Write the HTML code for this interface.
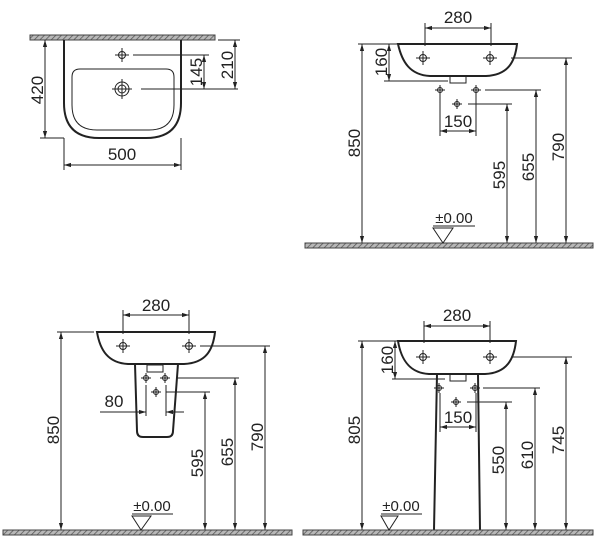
<!DOCTYPE html>
<html><head><meta charset="utf-8"><style>
html,body{margin:0;padding:0;background:#fff;}
svg{display:block;}
text{font-family:"Liberation Sans","DejaVu Sans",sans-serif;font-size:17px;fill:#222;}
</style></head><body>
<svg width="600" height="550" viewBox="0 0 600 550" xmlns="http://www.w3.org/2000/svg">
<defs>
<pattern id="h" width="4" height="4" patternUnits="userSpaceOnUse" patternTransform="rotate(45)">
<rect width="4" height="4" fill="#b8b8b8"/><line x1="0" y1="0" x2="0" y2="4" stroke="#555" stroke-width="1.5"/>
</pattern>
<marker id="a" viewBox="0 0 10 10" refX="10" refY="5" markerWidth="7" markerHeight="7" markerUnits="userSpaceOnUse" orient="auto-start-reverse">
<path d="M0,2 L10,5 L0,8 Z" fill="#222"/></marker>
<g id="tap"><circle r="3.5" fill="none" stroke="#222" stroke-width="1"/><line x1="-7" y1="0" x2="7" y2="0" stroke="#222" stroke-width="1"/><line x1="0" y1="-7" x2="0" y2="7" stroke="#222" stroke-width="1"/></g>
<g id="sm"><circle r="2.5" fill="none" stroke="#222" stroke-width="1"/><line x1="-5" y1="0" x2="5" y2="0" stroke="#222" stroke-width="1"/><line x1="0" y1="-5" x2="0" y2="5" stroke="#222" stroke-width="1"/></g>
</defs>

<g stroke="#222" stroke-width="1" fill="none">
<!-- Q1 -->
<rect x="30" y="35" width="185" height="5" fill="url(#h)" stroke="#444"/>
<path d="M64,40 V103 Q64,138 99,138 H146 Q181,138 181,103 V40" stroke-width="2"/>
<path d="M80,69 H166 Q174,69 174,77 V105 Q174,130 149,130 H97 Q72,130 72,105 V77 Q72,69 80,69 Z"/>
<line x1="133" y1="55" x2="209" y2="55"/>
<line x1="141" y1="89" x2="238" y2="89"/>
<line x1="218" y1="40" x2="240" y2="40"/>
<line x1="40" y1="138" x2="64" y2="138"/>
<line x1="45" y1="40" x2="45" y2="138" marker-start="url(#a)" marker-end="url(#a)"/>
<line x1="204" y1="55" x2="204" y2="89" marker-start="url(#a)" marker-end="url(#a)"/>
<line x1="235" y1="40" x2="235" y2="89" marker-start="url(#a)" marker-end="url(#a)"/>
<line x1="64" y1="138" x2="64" y2="170"/><line x1="181" y1="138" x2="181" y2="170"/>
<line x1="64" y1="165" x2="181" y2="165" marker-start="url(#a)" marker-end="url(#a)"/>
<circle cx="122" cy="89" r="7"/><circle cx="122" cy="89" r="4"/>
<line x1="112" y1="89" x2="132" y2="89"/><line x1="122" y1="79" x2="122" y2="99"/>

<!-- Q2 -->
<line x1="425" y1="23" x2="425" y2="46"/><line x1="491" y1="23" x2="491" y2="46"/>
<line x1="425" y1="28" x2="491" y2="28" marker-start="url(#a)" marker-end="url(#a)"/>
<path d="M398,44 H517 C515,62 508,75 486,76 H430 C410,75 402,62 398,44 Z" stroke-width="2"/>
<rect x="450" y="76" width="16" height="7"/>
<line x1="358" y1="44" x2="398" y2="44"/>
<line x1="384" y1="81" x2="448" y2="81"/>
<line x1="389" y1="44" x2="389" y2="81" marker-start="url(#a)" marker-end="url(#a)"/>
<line x1="511" y1="58" x2="572" y2="58"/>
<line x1="485" y1="90" x2="541" y2="90"/>
<line x1="468" y1="104" x2="512" y2="104"/>
<line x1="440" y1="95" x2="440" y2="136"/><line x1="476" y1="95" x2="476" y2="136"/>
<line x1="440" y1="131" x2="476" y2="131" marker-start="url(#a)" marker-end="url(#a)"/>
<line x1="362" y1="44" x2="362" y2="243" marker-start="url(#a)" marker-end="url(#a)"/>
<line x1="507" y1="104" x2="507" y2="243" marker-start="url(#a)" marker-end="url(#a)"/>
<line x1="536" y1="90" x2="536" y2="243" marker-start="url(#a)" marker-end="url(#a)"/>
<line x1="566" y1="58" x2="566" y2="243" marker-start="url(#a)" marker-end="url(#a)"/>
<rect x="305" y="243" width="288" height="5" fill="url(#h)" stroke="#444"/>
<line x1="433" y1="226" x2="475" y2="226"/>
<path d="M433,228 H453 L443,243 Z"/>

<!-- Q3 -->
<line x1="123" y1="310" x2="123" y2="334"/><line x1="189" y1="310" x2="189" y2="334"/>
<line x1="123" y1="315" x2="189" y2="315" marker-start="url(#a)" marker-end="url(#a)"/>
<path d="M97,332 H215 C213,350 206,363 184,364 H128 C108,363 100,350 97,332 Z" stroke-width="2"/>
<path d="M135,364 L137,431 Q137,437 143,437 H167 Q173,437 173,431 L178,364" stroke-width="2"/>
<rect x="147" y="365" width="16" height="7"/>
<line x1="57" y1="332" x2="94" y2="332"/>
<line x1="61" y1="332" x2="61" y2="530" marker-start="url(#a)" marker-end="url(#a)"/>
<line x1="200" y1="346" x2="270" y2="346"/>
<line x1="177" y1="378" x2="239" y2="378"/>
<line x1="166" y1="392" x2="210" y2="392"/>
<line x1="146" y1="385" x2="146" y2="416"/><line x1="166" y1="385" x2="166" y2="416"/>
<line x1="100" y1="412" x2="146" y2="412" marker-end="url(#a)"/>
<line x1="184" y1="412" x2="166" y2="412" marker-end="url(#a)"/>
<line x1="205" y1="392" x2="205" y2="530" marker-start="url(#a)" marker-end="url(#a)"/>
<line x1="235" y1="378" x2="235" y2="530" marker-start="url(#a)" marker-end="url(#a)"/>
<line x1="265" y1="346" x2="265" y2="530" marker-start="url(#a)" marker-end="url(#a)"/>
<rect x="3" y="530" width="289" height="5" fill="url(#h)" stroke="#444"/>
<line x1="132" y1="514" x2="173" y2="514"/>
<path d="M132,516 H151 L141,530 Z"/>

<!-- Q4 -->
<line x1="424" y1="321" x2="424" y2="343"/><line x1="490" y1="321" x2="490" y2="343"/>
<line x1="424" y1="326" x2="490" y2="326" marker-start="url(#a)" marker-end="url(#a)"/>
<path d="M398,341 H516 C514,359 507,373 485,374 H429 C409,373 401,359 398,341 Z" stroke-width="2"/>
<path d="M437,374 L434,530 M478,374 L480,530" stroke-width="2"/>
<rect x="450" y="374" width="16" height="7"/>
<line x1="358" y1="341" x2="398" y2="341"/>
<line x1="392" y1="379" x2="445" y2="379"/>
<line x1="395" y1="341" x2="395" y2="379" marker-start="url(#a)" marker-end="url(#a)"/>
<line x1="362" y1="341" x2="362" y2="530" marker-start="url(#a)" marker-end="url(#a)"/>
<line x1="511" y1="357" x2="572" y2="357"/>
<line x1="483" y1="388" x2="540" y2="388"/>
<line x1="467" y1="402" x2="512" y2="402"/>
<line x1="440" y1="393" x2="440" y2="432"/><line x1="476" y1="393" x2="476" y2="432"/>
<line x1="440" y1="427" x2="476" y2="427" marker-start="url(#a)" marker-end="url(#a)"/>
<line x1="506" y1="402" x2="506" y2="530" marker-start="url(#a)" marker-end="url(#a)"/>
<line x1="535" y1="388" x2="535" y2="530" marker-start="url(#a)" marker-end="url(#a)"/>
<line x1="566" y1="357" x2="566" y2="530" marker-start="url(#a)" marker-end="url(#a)"/>
<rect x="303" y="530" width="290" height="5" fill="url(#h)" stroke="#444"/>
<line x1="381" y1="514" x2="422" y2="514"/>
<path d="M381,516 H398 L389,530 Z"/>
</g>

<use href="#tap" x="122" y="55"/>
<use href="#tap" x="423" y="58"/><use href="#tap" x="490" y="58"/>
<use href="#sm" x="440" y="90"/><use href="#sm" x="476" y="90"/><use href="#sm" x="457" y="104"/>
<use href="#tap" x="123" y="346"/><use href="#tap" x="189" y="346"/>
<use href="#sm" x="146" y="378"/><use href="#sm" x="165" y="378"/><use href="#sm" x="156" y="392"/>
<use href="#tap" x="423" y="357"/><use href="#tap" x="490" y="357"/>
<use href="#sm" x="439" y="388"/><use href="#sm" x="475" y="388"/><use href="#sm" x="456" y="402"/>

<!-- texts -->
<text x="122" y="160" text-anchor="middle">500</text>
<text transform="translate(43,90) rotate(-90)" text-anchor="middle">420</text>
<text transform="translate(202,72) rotate(-90)" text-anchor="middle">145</text>
<text transform="translate(233,65) rotate(-90)" text-anchor="middle">210</text>

<text x="458" y="23" text-anchor="middle">280</text>
<text transform="translate(387,62) rotate(-90)" text-anchor="middle">160</text>
<text x="458" y="127" text-anchor="middle">150</text>
<text transform="translate(360,143) rotate(-90)" text-anchor="middle">850</text>
<text transform="translate(505,175) rotate(-90)" text-anchor="middle">595</text>
<text transform="translate(534,167) rotate(-90)" text-anchor="middle">655</text>
<text transform="translate(564,147) rotate(-90)" text-anchor="middle">790</text>
<text x="454" y="223" text-anchor="middle" style="font-size:15px">±0.00</text>

<text x="156" y="311" text-anchor="middle">280</text>
<text x="114" y="407" text-anchor="middle">80</text>
<text transform="translate(59,430) rotate(-90)" text-anchor="middle">850</text>
<text transform="translate(203,463) rotate(-90)" text-anchor="middle">595</text>
<text transform="translate(233,452) rotate(-90)" text-anchor="middle">655</text>
<text transform="translate(263,437) rotate(-90)" text-anchor="middle">790</text>
<text x="152" y="511" text-anchor="middle" style="font-size:15px">±0.00</text>

<text x="457" y="321" text-anchor="middle">280</text>
<text transform="translate(393,360) rotate(-90)" text-anchor="middle">160</text>
<text x="458" y="423" text-anchor="middle">150</text>
<text transform="translate(360,430) rotate(-90)" text-anchor="middle">805</text>
<text transform="translate(504,460) rotate(-90)" text-anchor="middle">550</text>
<text transform="translate(533,455) rotate(-90)" text-anchor="middle">610</text>
<text transform="translate(564,440) rotate(-90)" text-anchor="middle">745</text>
<text x="401" y="511" text-anchor="middle" style="font-size:15px">±0.00</text>
</svg>
</body></html>
